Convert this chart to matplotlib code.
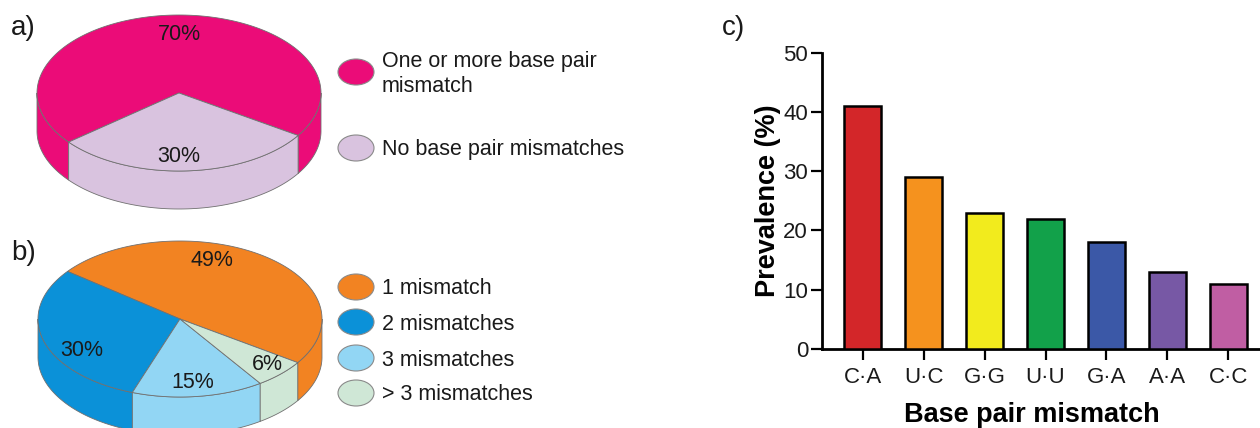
import numpy as np
import matplotlib
matplotlib.use("Agg")
import matplotlib.pyplot as plt
from matplotlib.patches import Polygon, Ellipse

plt.rcParams["font.family"] = ["Liberation Sans", "DejaVu Sans"]

# ---- data ----
pie_a_labels = ["One or more base pair\nmismatch", "No base pair mismatches"]
pie_a_values = [70, 30]
pie_a_colors = ["#EB0C78", "#D9C3DF"]

pie_b_labels = ["1 mismatch", "2 mismatches", "3 mismatches", "> 3 mismatches"]
pie_b_values = [49, 30, 15, 6]
pie_b_colors = ["#F28322", "#0B91D8", "#92D6F4", "#CFE7D6"]

mismatch_types = ["C·A", "U·C", "G·G", "U·U", "G·A", "A·A", "C·C"]
prevalence = [41, 29, 23, 22, 18, 13, 11]
bar_colors = ["#D32629", "#F5921E", "#F2EB1D", "#12A14A", "#3B58A7", "#7758A5", "#C05EA3"]

# ---- layout (pixels) ----
W, H = 1260, 428
fig = plt.figure(figsize=(W / 100, H / 100), dpi=100)

TEXT = "#1a1a1a"
FS_TEXT = 15.5


def px_axes(x0, y0, x1, y1):
    """Axes placed by pixel box (origin top-left)."""
    return fig.add_axes([x0 / W, 1 - y1 / H, (x1 - x0) / W, (y1 - y0) / H])


RX = 142.0            # pie radius in pixels
TILT = 78.0 / RX      # vertical squash of the top face
DEPTH = 38.0 / RX     # thickness of the disc
EDGE = "#707070"


def draw_pie3d(ax, cx, cy, box, values, colors, start, label_offsets):
    ax.set_xlim((box[0] - cx) / RX, (box[2] - cx) / RX)
    ax.set_ylim((cy - box[3]) / RX, (cy - box[1]) / RX)
    ax.axis("off")
    frac = np.asarray(values, float) / np.sum(values)
    bounds = start + 360.0 * np.concatenate([[0.0], np.cumsum(frac)])

    # visible side walls (front half of the disc)
    for i, col in enumerate(colors):
        a0, a1 = bounds[i], bounds[i + 1]
        for lo, hi in [(-180, 0), (180, 360), (540, 720)]:
            s, e = max(a0, lo), min(a1, hi)
            if e > s:
                t = np.radians(np.linspace(s, e, 80))
                top = np.column_stack([np.cos(t), TILT * np.sin(t)])
                bot = top - [0, DEPTH]
                ax.add_patch(Polygon(np.vstack([top, bot[::-1]]), closed=True,
                                     fc=col, ec=EDGE, lw=0.6))
    # top faces
    for i, col in enumerate(colors):
        t = np.radians(np.linspace(bounds[i], bounds[i + 1], 200))
        pts = np.vstack([[0, 0], np.column_stack([np.cos(t), TILT * np.sin(t)])])
        ax.add_patch(Polygon(pts, closed=True, fc=col, ec=EDGE, lw=0.6,
                             joinstyle="round"))
    for v, (dx, dy) in zip(values, label_offsets):
        ax.text(dx / RX, dy / RX, f"{v}%", ha="center", va="center",
                fontsize=FS_TEXT, color=TEXT)


ax_a = px_axes(0, 0, 360, 214)
draw_pie3d(ax_a, 179, 93, (0, 0, 360, 214), pie_a_values, pie_a_colors, -33,
           [(0, 59), (0, -64)])

ax_b = px_axes(0, 224, 360, 428)
draw_pie3d(ax_b, 180, 319, (0, 224, 360, 428), pie_b_values, pie_b_colors, -34,
           [(32, 59), (-98, -32), (13, -64), (87, -46)])

# ---- legends and panel letters ----
ov = fig.add_axes([0, 0, 1, 1])
ov.set_xlim(0, W)
ov.set_ylim(H, 0)
ov.axis("off")
ov.set_zorder(-1)


def legend_items(labels, colors, ys, text_dy=2):
    for lab, col, y in zip(labels, colors, ys):
        ov.add_patch(Ellipse((356, y), 36, 26, fc=col, ec="#8a8a8a", lw=0.8))
        ov.text(382, y + text_dy, lab, ha="left", va="center", fontsize=FS_TEXT,
                color=TEXT, linespacing=1.3)


legend_items(pie_a_labels, pie_a_colors, [72, 148])
legend_items(pie_b_labels, pie_b_colors, [287, 322, 358, 393])

for letter, x, y in [("a)", 11, 28), ("b)", 11, 253), ("c)", 722, 28)]:
    ov.text(x, y, letter, ha="left", va="center", fontsize=20, color=TEXT)

# ---- bar chart ----
ax = px_axes(822, 52.7, 1260, 349)
x = np.arange(len(mismatch_types))
ax.bar(x, prevalence, width=0.6, color=bar_colors, edgecolor="black",
       linewidth=1.8, zorder=3)
ax.set_xlim(-0.668, 6.52)
ax.set_ylim(0, 50)
ax.set_yticks([0, 10, 20, 30, 40, 50])
ax.set_xticks(x, mismatch_types)
for side in ("top", "right"):
    ax.spines[side].set_visible(False)
for side in ("left", "bottom"):
    ax.spines[side].set_linewidth(2.0)
ax.tick_params(axis="both", length=8, width=1.6, labelsize=16,
               direction="out", colors="black", labelcolor=TEXT)
ax.tick_params(axis="y", pad=2)
ax.tick_params(axis="x", pad=5)
ax.set_ylabel("Prevalence (%)", fontsize=19.5, fontweight="bold")
ax.yaxis.set_label_coords(-0.094, 0.5)
ax.set_xlabel("Base pair mismatch", fontsize=19.5, fontweight="bold")
ax.xaxis.set_label_coords(0.48, -0.178)

fig.savefig("out.png", dpi=100)
